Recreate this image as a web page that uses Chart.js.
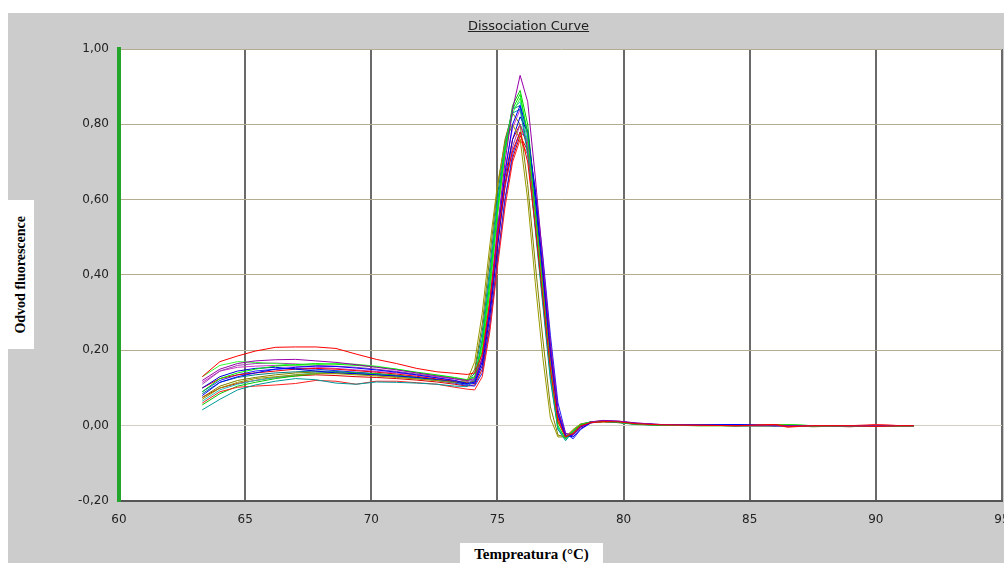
<!DOCTYPE html>
<html>
<head>
<meta charset="utf-8">
<script src="https://cdn.jsdelivr.net/npm/chart.js@4/dist/chart.umd.min.js"></script>
<style>
  body { margin: 0; background: #fff; overflow: hidden; width: 1004px; height: 563px; position: relative; }
  #wrap { position: absolute; left: 8px; top: 13px; width: 1002px; height: 550px; background: #cccccc; }
  #title { position: absolute; left: 0; width: 1057px; top: 18px; text-align: center; font: 13px "DejaVu Sans", sans-serif; color: #222; text-decoration: underline; }
  #ylab { position: absolute; left: 8px; top: 200px; width: 26px; height: 149px; background: #fff; display: flex; align-items: center; justify-content: center; }
  #ylab span { writing-mode: vertical-rl; transform: rotate(180deg); font: bold 14px "Liberation Serif", serif; color: #000; white-space: nowrap; }
  #xlab { position: absolute; left: 460px; top: 543px; width: 143px; height: 20px; background: #fff; text-align: center; font: bold 15px "Liberation Serif", serif; line-height: 22px; color: #000; white-space: nowrap; }
</style>
</head>
<body>
<div id="wrap"><canvas id="chart" width="1002" height="550"></canvas></div>
<div id="title">Dissociation Curve</div>
<div id="ylab"><span>Odvod fluorescence</span></div>
<div id="xlab">Tempreatura (°C)</div>
<script>
// teploty (x) společné pro všechny křivky
const temps = [63.3, 64.0, 64.7, 65.4, 66.2, 67.0, 67.8, 68.6, 69.4, 70.2, 71.0, 71.8, 72.6, 73.3,
  73.8, 74.1, 74.4, 74.7, 75.0, 75.3, 75.6, 75.9, 76.2, 76.5, 76.8, 77.1, 77.4, 77.7, 78.0, 78.3, 78.7, 79.2,
  79.8, 80.5, 81.5, 83.0, 84.5, 86.0, 86.5, 87.5, 89.0, 90.0, 91.0, 91.5]

const xTicks = [60, 65, 70, 75, 80, 85, 90, 95]
const yTicks = [-0.2, 0, 0.2, 0.4, 0.6, 0.8, 1.0]

const red1 = [0.13, 0.17, 0.185, 0.198, 0.208, 0.209, 0.209, 0.205, 0.19, 0.176, 0.165, 0.152, 0.143, 0.139,
  0.136, 0.14, 0.19, 0.33, 0.50, 0.64, 0.73, 0.78, 0.70, 0.53, 0.34, 0.15, 0.01, -0.03, -0.02, 0.0, 0.008, 0.011,
  0.01, 0.005, 0.002, 0.001, 0.0, 0.003, -0.003, 0, 0, -0.002, 0, 0]
const purple1 = [0.12, 0.15, 0.165, 0.172, 0.175, 0.176, 0.172, 0.168, 0.162, 0.155, 0.148, 0.14, 0.132, 0.125,
  0.12, 0.125, 0.18, 0.33, 0.52, 0.70, 0.84, 0.93, 0.86, 0.66, 0.44, 0.22, 0.04, -0.02, -0.025, -0.005, 0.01, 0.014,
  0.012, 0.007, 0.003, 0.001, 0, 0, 0, 0, 0, 0, 0, 0]
const green1 = [0.09, 0.125, 0.14, 0.15, 0.158, 0.162, 0.165, 0.163, 0.16, 0.156, 0.15, 0.142, 0.135, 0.128,
  0.122, 0.13, 0.22, 0.38, 0.57, 0.73, 0.84, 0.88, 0.77, 0.57, 0.36, 0.15, 0.0, -0.035, -0.015, 0.002, 0.01, 0.012,
  0.009, 0.004, 0.001, 0, 0, 0.001, 0.002, 0, 0, 0, 0, 0]
const blue1 = [0.08, 0.115, 0.13, 0.14, 0.15, 0.155, 0.158, 0.157, 0.153, 0.148, 0.142, 0.135, 0.127, 0.12,
  0.112, 0.115, 0.17, 0.31, 0.50, 0.67, 0.80, 0.85, 0.78, 0.60, 0.40, 0.19, 0.03, -0.03, -0.025, -0.003, 0.009, 0.012,
  0.01, 0.005, 0.002, 0.002, 0.003, 0, 0, 0, 0, 0, 0, 0]
const teal1 = [0.042, 0.07, 0.095, 0.108, 0.118, 0.125, 0.122, 0.113, 0.11, 0.116, 0.115, 0.113, 0.11, 0.105,
  0.104, 0.12, 0.23, 0.40, 0.59, 0.74, 0.83, 0.84, 0.72, 0.52, 0.32, 0.12, -0.01, -0.04, -0.015, 0.003, 0.01, 0.011,
  0.008, 0.003, 0.001, 0.001, 0, 0, 0, 0, 0, 0, 0, 0]
const olive1 = [0.07, 0.10, 0.115, 0.125, 0.13, 0.135, 0.138, 0.138, 0.135, 0.132, 0.128, 0.124, 0.12, 0.115,
  0.12, 0.17, 0.30, 0.48, 0.64, 0.75, 0.80, 0.76, 0.60, 0.38, 0.18, 0.02, -0.03, -0.03, -0.01, 0.005, 0.009, 0.01,
  0.008, 0.004, 0.002, 0, 0, 0, 0.001, -0.002, 0, 0, -0.002, -0.001]
const red2 = [0.06, 0.09, 0.102, 0.105, 0.108, 0.112, 0.12, 0.118, 0.11, 0.118, 0.118, 0.114, 0.11, 0.102,
  0.097, 0.095, 0.13, 0.25, 0.42, 0.58, 0.70, 0.76, 0.72, 0.57, 0.38, 0.18, 0.02, -0.03, -0.02, 0.0, 0.008, 0.01,
  0.009, 0.004, 0.001, 0.002, 0, 0.002, -0.004, 0, 0, 0.003, 0, 0]
const green2 = [0.13, 0.16, 0.17, 0.168, 0.165, 0.16, 0.162, 0.165, 0.163, 0.158, 0.15, 0.14, 0.133, 0.127,
  0.12, 0.128, 0.21, 0.37, 0.56, 0.72, 0.83, 0.87, 0.78, 0.59, 0.38, 0.17, 0.01, -0.03, -0.02, 0.0, 0.009, 0.012,
  0.01, 0.005, 0.002, 0.001, 0, 0, 0.002, 0, 0, 0, 0, 0]
const blue2 = [0.10, 0.13, 0.145, 0.152, 0.155, 0.15, 0.145, 0.14, 0.138, 0.135, 0.132, 0.128, 0.122, 0.116,
  0.11, 0.112, 0.16, 0.29, 0.47, 0.64, 0.76, 0.82, 0.78, 0.62, 0.42, 0.21, 0.04, -0.025, -0.03, -0.008, 0.008, 0.012,
  0.011, 0.006, 0.002, 0.002, 0.002, 0, 0, 0, 0, 0, 0, 0]
const purple2 = [0.11, 0.145, 0.16, 0.165, 0.166, 0.164, 0.16, 0.158, 0.155, 0.15, 0.144, 0.137, 0.13, 0.124,
  0.118, 0.12, 0.17, 0.30, 0.48, 0.63, 0.74, 0.80, 0.75, 0.59, 0.40, 0.20, 0.03, -0.03, -0.02, 0.0, 0.01, 0.013,
  0.012, 0.007, 0.003, 0.001, 0, 0, 0, 0, 0, 0, 0, 0]
const cyan1 = [0.065, 0.095, 0.11, 0.12, 0.128, 0.135, 0.14, 0.14, 0.138, 0.136, 0.132, 0.127, 0.121, 0.115,
  0.11, 0.125, 0.23, 0.40, 0.59, 0.74, 0.84, 0.86, 0.75, 0.55, 0.34, 0.14, -0.005, -0.035, -0.018, 0.0, 0.009, 0.011,
  0.009, 0.004, 0.001, 0.001, 0.001, 0, 0, 0, 0, 0, 0, 0]
const olive2 = [0.075, 0.105, 0.12, 0.128, 0.135, 0.14, 0.142, 0.14, 0.137, 0.134, 0.13, 0.125, 0.12, 0.114,
  0.116, 0.15, 0.27, 0.45, 0.63, 0.76, 0.83, 0.80, 0.64, 0.43, 0.23, 0.05, -0.025, -0.03, -0.012, 0.004, 0.01, 0.011,
  0.009, 0.004, 0.001, 0, 0, 0, 0.001, -0.003, 0, 0, -0.002, -0.002]
const red3 = [0.10, 0.125, 0.135, 0.14, 0.145, 0.15, 0.152, 0.15, 0.146, 0.142, 0.137, 0.131, 0.124, 0.118,
  0.113, 0.118, 0.18, 0.32, 0.50, 0.66, 0.76, 0.80, 0.74, 0.57, 0.38, 0.18, 0.02, -0.03, -0.022, -0.002, 0.008, 0.011,
  0.01, 0.005, 0.002, 0.001, 0, 0.003, 0.001, 0, -0.003, 0.002, 0, 0]
const green3 = [0.055, 0.085, 0.105, 0.115, 0.125, 0.132, 0.138, 0.14, 0.14, 0.138, 0.134, 0.128, 0.122, 0.116,
  0.112, 0.12, 0.20, 0.36, 0.56, 0.73, 0.85, 0.89, 0.80, 0.60, 0.39, 0.18, 0.02, -0.03, -0.02, 0.0, 0.01, 0.012,
  0.01, 0.005, 0.002, 0.001, 0, 0, 0.003, 0, 0, 0, 0, 0]
const teal2 = [0.085, 0.115, 0.128, 0.135, 0.14, 0.143, 0.145, 0.144, 0.14, 0.137, 0.133, 0.128, 0.122, 0.117,
  0.115, 0.14, 0.25, 0.42, 0.61, 0.75, 0.84, 0.85, 0.73, 0.53, 0.33, 0.13, -0.01, -0.035, -0.015, 0.002, 0.01, 0.011,
  0.009, 0.004, 0.002, 0.001, 0, 0, 0, 0, 0, 0, 0, 0]
const blue3 = [0.09, 0.12, 0.135, 0.145, 0.15, 0.152, 0.15, 0.146, 0.142, 0.138, 0.133, 0.127, 0.12, 0.113,
  0.107, 0.105, 0.14, 0.26, 0.43, 0.60, 0.72, 0.78, 0.76, 0.63, 0.45, 0.24, 0.06, -0.02, -0.035, -0.01, 0.007, 0.012,
  0.011, 0.006, 0.002, 0.001, 0.002, 0, 0, 0, 0, 0, 0, 0]
const magenta1 = [0.115, 0.145, 0.155, 0.158, 0.16, 0.158, 0.155, 0.152, 0.148, 0.144, 0.14, 0.134, 0.127, 0.12,
  0.114, 0.118, 0.18, 0.33, 0.52, 0.68, 0.79, 0.84, 0.77, 0.60, 0.40, 0.19, 0.03, -0.028, -0.02, 0.0, 0.01, 0.013,
  0.011, 0.006, 0.002, 0.001, 0, 0, 0, 0, 0, 0, 0, 0]
const red4 = [0.075, 0.1, 0.112, 0.12, 0.128, 0.132, 0.135, 0.133, 0.13, 0.128, 0.125, 0.121, 0.116, 0.11,
  0.105, 0.108, 0.15, 0.27, 0.44, 0.60, 0.71, 0.77, 0.73, 0.58, 0.39, 0.19, 0.03, -0.03, -0.022, -0.003, 0.008, 0.011,
  0.01, 0.005, 0.002, 0.001, 0, 0.002, 0, 0, 0, -0.002, 0, 0]

const series = [red1, purple1, green1, blue1, teal1, olive1, red2, green2, blue2, purple2, cyan1, olive2, red3, green3, teal2, blue3, magenta1, red4]
const colors = ['#ff0000', '#9900aa', '#00ee00', '#0000ff', '#009999', '#999900', '#ff2020', '#33ff33', '#0000dd', '#a040b0', '#20c0c0', '#808000', '#ee0000', '#00cc00', '#008080', '#2020ff', '#cc33cc', '#dd0000']

const plotBg = {
  id: 'plotBg',
  beforeDraw(chart) {
    const a = chart.chartArea
    chart.ctx.save()
    chart.ctx.fillStyle = '#ffffff'
    chart.ctx.fillRect(a.left, a.top, a.right - a.left, a.bottom - a.top)
    chart.ctx.restore()
  }
}

new Chart(document.getElementById('chart'), {
  type: 'line',
  data: {
    datasets: series.map((vals, i) => ({
      label: 'well ' + (i + 1),
      data: temps.map((t, j) => ({ x: t, y: vals[j] })),
      borderColor: colors[i],
      borderWidth: 1,
      pointRadius: 0,
      tension: 0,
      fill: false
    }))
  },
  options: {
    responsive: false,
    animation: false,
    devicePixelRatio: 1,
    layout: { padding: { top: 36, right: 8, left: 0, bottom: 0 } },
    plugins: { legend: { display: false }, tooltip: { enabled: false } },
    scales: {
      x: {
        type: 'linear',
        min: xTicks[0],
        max: xTicks[xTicks.length - 1],
        afterBuildTicks: s => { s.ticks = xTicks.map(v => ({ value: v })) },
        afterFit: s => { s.height = 62; s.paddingLeft = 0; s.paddingRight = 0 },
        ticks: { padding: 12, color: '#222', font: { family: 'DejaVu Sans', size: 12 }, maxRotation: 0 },
        grid: { color: '#6a6a6a', lineWidth: 2, drawTicks: false },
        border: { color: '#555', width: 2 }
      },
      y: {
        min: yTicks[0],
        max: yTicks[yTicks.length - 1],
        afterBuildTicks: s => { s.ticks = yTicks.map(v => ({ value: v })) },
        afterFit: s => { s.width = 111; s.paddingTop = 0; s.paddingBottom = 0 },
        ticks: {
          padding: 10, color: '#222', font: { family: 'DejaVu Sans', size: 12 },
          callback: v => v.toFixed(2).replace('.', ',')
        },
        grid: {
          color: ctx => (ctx.tick && Math.abs(ctx.tick.value) < 1e-9) ? '#d2d0c2' : '#b4ac90',
          lineWidth: 1, drawTicks: false
        },
        border: { color: '#22a52a', width: 4 }
      }
    }
  },
  plugins: [plotBg]
})
</script>
</body>
</html>
